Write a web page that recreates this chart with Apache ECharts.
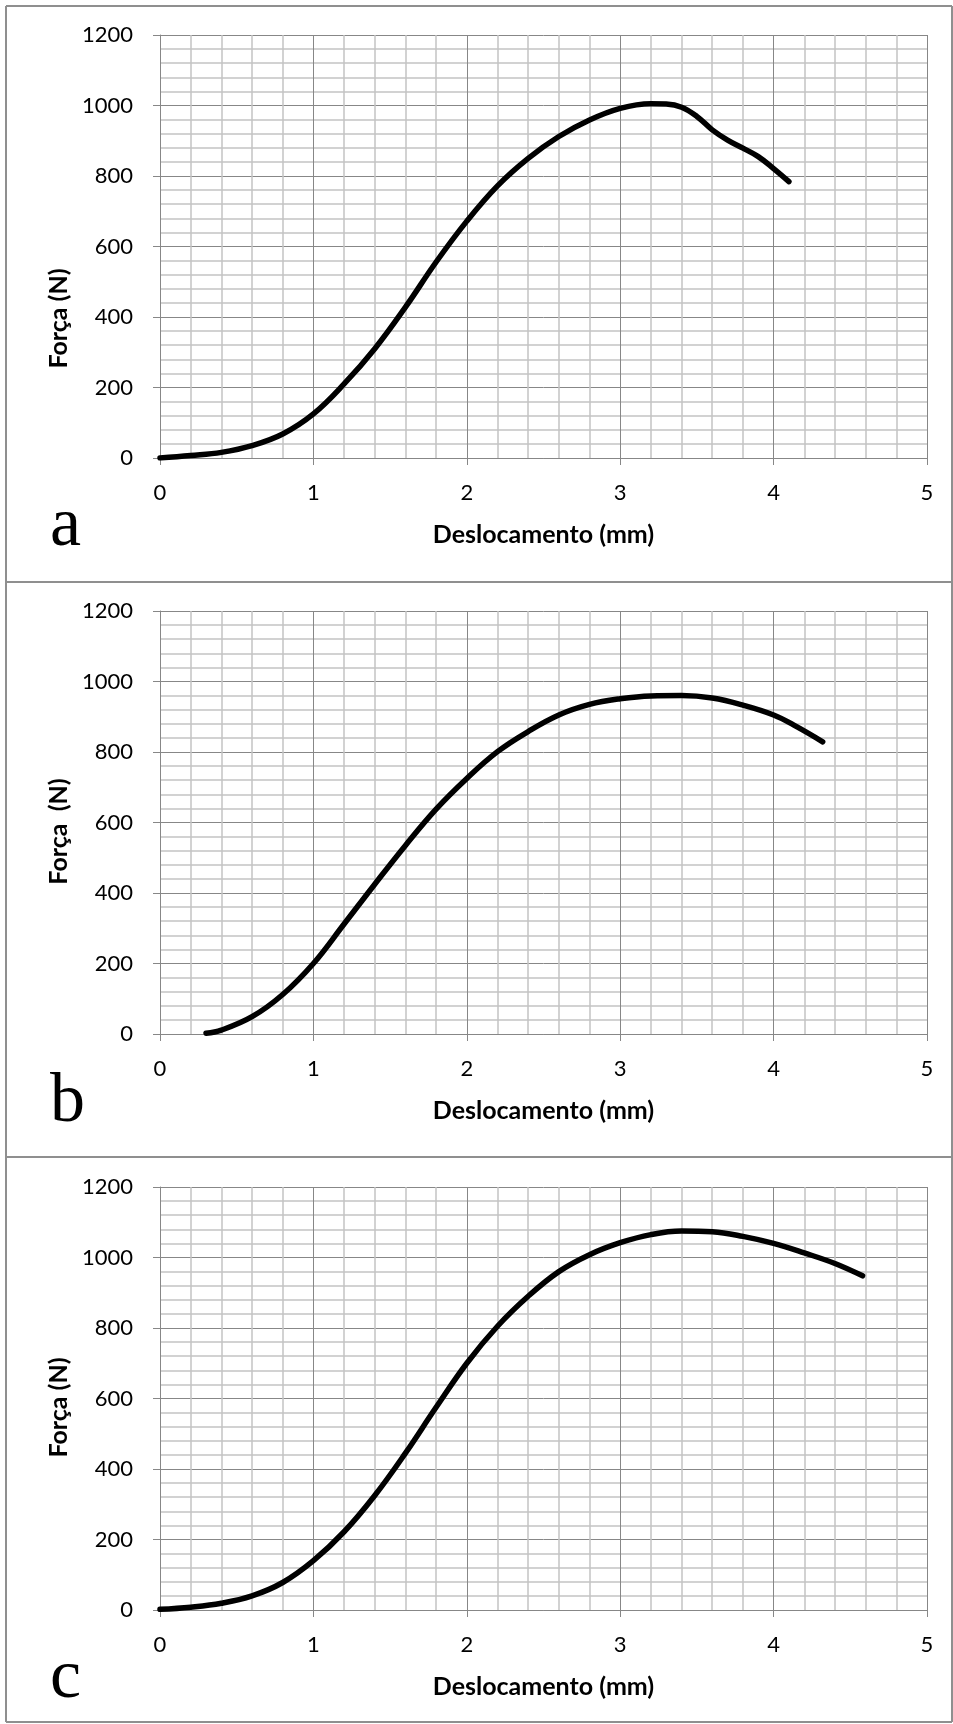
<!DOCTYPE html>
<html>
<head>
<meta charset="utf-8">
<script src="https://cdn.jsdelivr.net/npm/echarts@6/dist/echarts.min.js"></script>
<style>
  html, body { margin: 0; padding: 0; background: #fff; }
  #chart { width: 953px; height: 1724px; }
</style>
</head>
<body>
<div id="chart"></div>
<script>
// dados: deslocamento (mm) e forca (N)
var xA = [0, 0.2, 0.4, 0.6, 0.8, 1.0, 1.2, 1.4, 1.6, 1.8, 2.0, 2.2, 2.4, 2.6, 2.8, 3.0, 3.2, 3.3, 3.4, 3.5, 3.6, 3.7, 3.8, 3.9, 4.0, 4.1];
var yA = [0, 7, 16, 35, 68, 125, 210, 310, 428, 556, 672, 772, 850, 912, 959, 992, 1005, 1004, 995, 969, 931, 902, 879, 855, 821, 784];

var xB = [0.3, 0.4, 0.6, 0.8, 1.0, 1.2, 1.4, 1.6, 1.8, 2.0, 2.2, 2.4, 2.6, 2.8, 3.0, 3.2, 3.4, 3.6, 3.8, 4.0, 4.15, 4.32];
var yB = [2, 11, 49, 112, 200, 312, 425, 535, 638, 725, 801, 858, 905, 935, 951, 959, 960, 953, 933, 905, 872, 829];

var xC = [0, 0.2, 0.4, 0.6, 0.8, 1.0, 1.2, 1.4, 1.6, 1.8, 2.0, 2.2, 2.4, 2.6, 2.8, 3.0, 3.2, 3.4, 3.6, 3.8, 4.0, 4.2, 4.4, 4.58];
var yC = [2, 8, 19, 40, 78, 140, 222, 325, 445, 575, 700, 805, 890, 960, 1008, 1042, 1065, 1075, 1073, 1060, 1040, 1013, 983, 948];

var xTicks = [0, 1, 2, 3, 4, 5];
var yTicks = [0, 200, 400, 600, 800, 1000, 1200];
var letters = ['a', 'b', 'c'];
var yNames = ['Força (N)', 'Força  (N)', 'Força (N)'];
var xName = 'Deslocamento (mm)';

var series = [[xA, yA], [xB, yB], [xC, yC]];
// topo de cada grafico e deslocamento do titulo do eixo y
var tops = [35, 611, 1187];
var yNameShift = [144, 18, 18];
var panelLines = [6, 582, 1157, 1722];

var chart = echarts.init(document.getElementById('chart'));

var grids = [], xAxes = [], yAxes = [], lines = [], graphics = [];
var major = '#878787', minor = '#c4c4c4';
var titleFont = { color: '#000', fontFamily: 'Lato', fontWeight: 'bold', fontSize: 25 };

for (var i = 0; i < 3; i++) {
  grids.push({ left: 160, width: 767, top: tops[i], height: 423 });
  xAxes.push({
    type: 'value', gridIndex: i, min: xTicks[0], max: xTicks[xTicks.length - 1], interval: 1,
    axisLine: { show: true, onZero: false, lineStyle: { color: major, width: 1 } },
    axisTick: { show: true, length: 7, lineStyle: { color: major } },
    axisLabel: { color: '#000', fontFamily: 'Lato', fontSize: 22, margin: 24 },
    splitLine: { show: true, lineStyle: { color: major, width: 1 } },
    minorTick: { show: false, splitNumber: 5 },
    minorSplitLine: { show: true, lineStyle: { color: minor, width: 1.5 } },
    name: xName, nameLocation: 'middle', nameGap: 64,
    nameTextStyle: titleFont
  });
  yAxes.push({
    type: 'value', gridIndex: i, min: yTicks[0], max: yTicks[yTicks.length - 1], interval: 200,
    axisLine: { show: true, onZero: false, lineStyle: { color: major, width: 1 } },
    axisTick: { show: true, length: 7, lineStyle: { color: major } },
    axisLabel: {
      color: '#000', fontFamily: 'Lato', fontSize: 22, margin: 27,
      formatter: function (v) { return String(v); }
    },
    splitLine: { show: true, lineStyle: { color: major, width: 1 } },
    minorTick: { show: false, splitNumber: 5 },
    minorSplitLine: { show: true, lineStyle: { color: minor, width: 1.5 } },
    name: yNames[i], nameLocation: 'middle', nameGap: 86,
    nameTextStyle: Object.assign({ padding: [0, yNameShift[i], 0, 0] }, titleFont)
  });
  lines.push({
    type: 'line', xAxisIndex: i, yAxisIndex: i,
    data: series[i][0].map(function (x, k) { return [x, series[i][1][k]]; }),
    smooth: 0.4, showSymbol: false, silent: true,
    lineStyle: { color: '#000', width: 5.5, cap: 'round', join: 'round' }
  });
  graphics.push({
    type: 'text', left: 50, top: tops[i] + 423 + 34,
    style: { text: letters[i], font: '70px "Liberation Serif"', fill: '#000' }
  });
}

// molduras dos paineis
panelLines.forEach(function (y) {
  graphics.push({ type: 'line', shape: { x1: 6, y1: y, x2: 952, y2: y }, style: { stroke: '#8f8f8f', lineWidth: 2 } });
});
graphics.push({ type: 'line', shape: { x1: 6, y1: 6, x2: 6, y2: 1722 }, style: { stroke: '#8f8f8f', lineWidth: 2 } });
graphics.push({ type: 'line', shape: { x1: 952, y1: 6, x2: 952, y2: 1722 }, style: { stroke: '#8f8f8f', lineWidth: 2 } });

chart.setOption({
  animation: false,
  backgroundColor: '#fff',
  grid: grids,
  xAxis: xAxes,
  yAxis: yAxes,
  series: lines,
  graphic: graphics
});
</script>
</body>
</html>
